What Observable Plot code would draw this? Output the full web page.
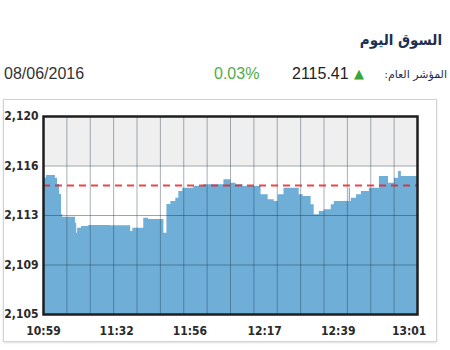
<!DOCTYPE html>
<html>
<head>
<meta charset="utf-8">
<script src="https://cdn.jsdelivr.net/npm/d3@7"></script>
<script src="https://cdn.jsdelivr.net/npm/@observablehq/plot@0.6"></script>
<style>
  html, body { margin: 0; padding: 0; background: #fff; width: 450px; height: 350px; overflow: hidden; }
  .abs { position: absolute; white-space: nowrap; }
  #title { right: 8px; top: 28px; font: bold 15px "DejaVu Sans Condensed", "DejaVu Sans", sans-serif; color: #1d2e4f; line-height: 24px; direction: rtl; }
  .row { top: 64px; font: 16px "Liberation Sans", Arial, sans-serif; line-height: 19px; }
  #date { left: 4px; color: #333; }
  #pct { left: 214px; color: #4fae45; }
  #last { left: 292px; color: #222; }
  #tri { left: 354px; top: 66px; font: 13px "DejaVu Sans", sans-serif; color: #3aa53a; line-height: 16px; }
  #lbl { right: 3px; top: 67px; font: 11px "DejaVu Sans", sans-serif; color: #1d2e4f; line-height: 16px; direction: rtl; }
  #box { left: 3px; top: 99px; width: 432px; height: 241px; border: 1px solid #d2d2d2; box-shadow: 0 1px 2px rgba(0,0,0,0.12); }
  #chart { left: 0px; top: 100px; }
</style>
</head>
<body>
<div id="title" class="abs">السوق اليوم</div>
<div id="date" class="abs row">08/06/2016</div>
<div id="pct" class="abs row">0.03%</div>
<div id="last" class="abs row">2115.41</div>
<div id="tri" class="abs">▲</div>
<div id="lbl" class="abs">المؤشر العام:</div>
<div id="box" class="abs"></div>
<div id="chart" class="abs"></div>
<script>
// Intraday index series (sample index 0..160, value)
const priceIdx = [0, 1.3, 5.1, 6.0, 6.9, 7.7, 8.2, 13.7, 14.2, 14.6, 16.3, 19.3, 28.7, 37.3, 38.2, 42.9, 45.0, 50.6, 51.5, 52.8, 54.5, 56.6, 57.9, 59.6, 64.3, 68.6, 77.2, 80.2, 82.4, 85.4, 93.1, 96.1, 98.7, 100.4, 102.9, 109.4, 111.1, 114.5, 115.8, 118.0, 120.1, 123.1, 124.4, 130.8, 131.3, 131.7, 133.9, 136.0, 139.4, 143.7, 147.6, 150.1, 151.9, 153.1, 160];
const priceVal = [2115.33, 2115.53, 2115.33, 2114.85, 2114.09, 2112.58, 2112.37, 2111.92, 2111.16, 2111.54, 2111.67, 2111.74, 2111.72, 2111.29, 2111.54, 2112.30, 2112.20, 2112.20, 2111.16, 2113.33, 2113.56, 2113.81, 2114.32, 2114.57, 2114.70, 2114.83, 2115.20, 2114.95, 2114.83, 2114.70, 2114.07, 2113.69, 2113.56, 2114.07, 2114.57, 2114.07, 2113.94, 2113.31, 2112.55, 2112.80, 2112.93, 2113.31, 2113.56, 2114.57, 2113.56, 2113.81, 2114.07, 2114.32, 2114.57, 2115.45, 2114.95, 2115.33, 2115.83, 2115.45, 2115.41];
const prevClose = 2114.78;

const yTickValues = [2105, 2108.75, 2112.5, 2116.25, 2120];
const yTickLabels = ["2,105", "2,109", "2,113", "2,116", "2,120"];
const xTickPos = [0, 31.3, 62.6, 94.6, 126.1, 156.4];
const xTickLabels = ["10:59", "11:32", "11:56", "12:17", "12:39", "13:01"];
const xGrid = d3.range(0, 161, 10);

const series = priceIdx.map((i, k) => ({i, v: priceVal[k]}));
const yMin = yTickValues[0], yMax = yTickValues[yTickValues.length - 1];
const topBand = [{x1: 0, x2: 160, y1: yTickValues[3], y2: yMax}];
const axisFont = {fontSize: 12, fontWeight: "bold", fontFamily: "'DejaVu Sans Condensed', 'DejaVu Sans', sans-serif", fill: "#2a2a2a"};

const chart = Plot.plot({
  width: 450,
  height: 245,
  marginLeft: 43,
  marginRight: 33,
  marginTop: 16,
  marginBottom: 31,
  style: {background: "transparent", overflow: "visible"},
  x: {domain: [0, 160], axis: null},
  y: {domain: [yMin, yMax], axis: null},
  marks: [
    Plot.rect(topBand, {x1: "x1", x2: "x2", y1: "y1", y2: "y2", fill: "#efefef"}),
    Plot.areaY(series, {x: "i", y1: yMin, y2: "v", curve: "step-after", fill: "#6eaed7"}),
    Plot.gridX(xGrid, {stroke: "#23384a", strokeOpacity: 0.4, strokeWidth: 1}),
    Plot.gridY(yTickValues, {stroke: "#23384a", strokeOpacity: 0.45, strokeWidth: 1}),
    Plot.ruleY([prevClose], {stroke: "#e8262a", strokeWidth: 2, strokeDasharray: "7,5", strokeOpacity: 0.85}),
    Plot.frame({stroke: "#1e1e1e", strokeWidth: 2.5}),
    Plot.axisY(yTickValues, {tickSize: 0, tickPadding: 5, tickFormat: (d, k) => yTickLabels[k], ...axisFont}),
    Plot.axisX(xTickPos, {tickSize: 0, tickPadding: 12, tickFormat: (d, k) => xTickLabels[k], ...axisFont})
  ]
});
document.getElementById("chart").appendChild(chart);
</script>
</body>
</html>
